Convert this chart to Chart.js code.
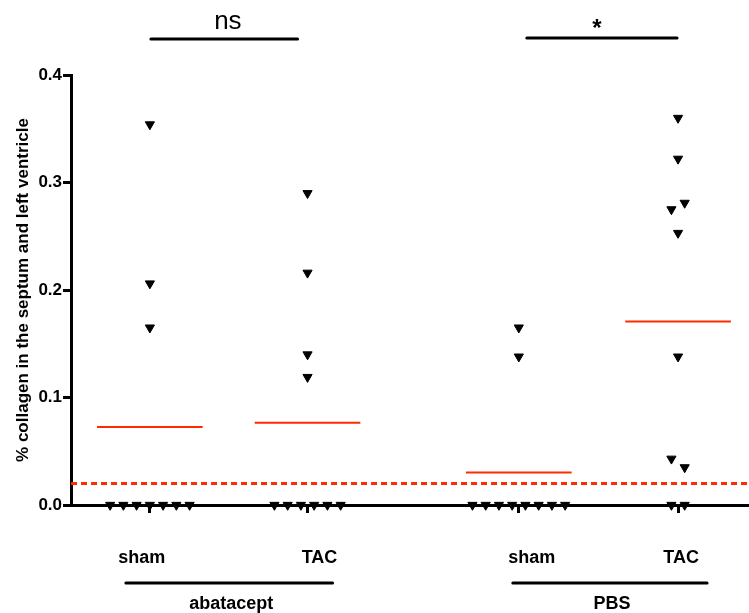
<!DOCTYPE html>
<html>
<head>
<meta charset="utf-8">
<title>Collagen</title>
<script src="https://cdn.jsdelivr.net/npm/chart.js@4.4.0/dist/chart.umd.min.js"></script>
<style>
    html, body { margin: 0; padding: 0; background: #fff; }
    #wrap { width: 749px; height: 613px; }
</style>
</head>
<body>
<div id="wrap"><canvas id="collagen-chart"></canvas></div>
<script>
(function () {
    "use strict";

    // data
    var groups = ["sham", "TAC", "sham", "TAC"];
    var treatments = ["abatacept", "PBS"];
    var groupPos = [1, 2, 3.34, 4.35];
    var shamAbatacept = [0.354, 0.206, 0.165, 0, 0, 0, 0, 0, 0, 0];
    var tacAbatacept = [0.290, 0.216, 0.140, 0.119, 0, 0, 0, 0, 0, 0];
    var shamPbs = [0.165, 0.138, 0, 0, 0, 0, 0, 0, 0, 0];
    var tacPbs = [0.360, 0.322, 0.275, 0.281, 0.253, 0.138, 0.043, 0.035, 0, 0];
    var detectionLimit = 0.02;
    var yTicks = [0, 0.1, 0.2, 0.3, 0.4];
    var significance = ["ns", "*"];

    var series = [shamAbatacept, tacAbatacept, shamPbs, tacPbs];
    var font = "'Liberation Sans', Arial, sans-serif";
    var red = "#ff2a00";

    // spread points that sit on the same level side by side
    function spread(values, pos) {
        var rows = [];
        values.forEach(function (v) {
            var row = rows.find(function (r) { return Math.abs(r.y - v) < 0.012; });
            if (!row) {
                row = { y: v, items: [] };
                rows.push(row);
            }
            row.items.push(v);
        });
        var pts = [];
        rows.forEach(function (r) {
            r.items.forEach(function (v, i) {
                pts.push({ x: pos + (i - (r.items.length - 1) / 2) * 0.084, y: v });
            });
        });
        return pts;
    }

    function mean(values) {
        return values.reduce(function (a, b) { return a + b; }, 0) / values.length;
    }

    var datasets = [];

    // dotted detection line
    datasets.push({
        type: "line",
        data: [{ x: 0.5, y: detectionLimit }, { x: 4.8, y: detectionLimit }],
        borderColor: red,
        borderWidth: 3,
        borderDash: [6, 4],
        pointRadius: 0,
        order: 3
    });

    series.forEach(function (values, i) {
        var m = mean(values);
        datasets.push({
            type: "line",
            data: [{ x: groupPos[i] - 0.335, y: m }, { x: groupPos[i] + 0.335, y: m }],
            borderColor: red,
            borderWidth: 2,
            pointRadius: 0,
            order: 2
        });
        datasets.push({
            type: "scatter",
            data: spread(values, groupPos[i]),
            pointStyle: "triangle",
            rotation: 180,
            pointRadius: 5.3,
            backgroundColor: "#000",
            borderColor: "#000",
            borderWidth: 1,
            clip: false,
            order: 1
        });
    });

    // brackets, stars and group labels
    var labelsPlugin = {
        id: "labels",
        afterDraw: function (chart) {
            var ctx = chart.ctx;
            var xs = chart.scales.x;
            var px = groupPos.map(function (p) { return xs.getPixelForValue(p); });

            ctx.save();
            ctx.fillStyle = "#000";
            ctx.strokeStyle = "#000";
            ctx.lineWidth = 3;
            ctx.lineCap = "round";
            ctx.textAlign = "center";
            ctx.textBaseline = "middle";

            function bar(x1, x2, y) {
                ctx.beginPath();
                ctx.moveTo(x1, y);
                ctx.lineTo(x2, y);
                ctx.stroke();
            }

            // significance
            bar(px[0] + 1, px[1] - 10, 39);
            bar(px[2] + 8, px[3] - 1, 38);
            ctx.font = "26px " + font;
            ctx.fillText(significance[0], px[0] + 78, 22);
            ctx.font = "bold 24px " + font;
            ctx.fillText(significance[1], px[2] + 78, 29);

            // category labels
            var shift = [-8, 12, 13, 3];
            ctx.font = "bold 18px " + font;
            groups.forEach(function (g, i) {
                ctx.fillText(g, px[i] + shift[i], 558);
            });

            // treatment brackets
            var spans = [[px[0] - 24, px[1] + 25], [px[2] - 6, px[3] + 29]];
            treatments.forEach(function (t, i) {
                bar(spans[i][0], spans[i][1], 583);
                ctx.fillText(t, (spans[i][0] + spans[i][1]) / 2 + 2, 604);
            });
            ctx.restore();
        }
    };

    var ctx1 = document.getElementById("collagen-chart").getContext("2d");
    var myChart1 = new Chart(ctx1, {
        data: { datasets: datasets },
        options: {
            responsive: true,
            maintainAspectRatio: false,
            animation: false,
            layout: { autoPadding: false, padding: { left: 13, top: 75, right: 0, bottom: 100 } },
            plugins: {
                legend: { display: false },
                tooltip: { enabled: false }
            },
            scales: {
                x: {
                    type: "linear",
                    min: 0.5,
                    max: 4.8,
                    afterBuildTicks: function (axis) {
                        axis.ticks = groupPos.map(function (v) { return { value: v }; });
                    },
                    ticks: { display: false },
                    grid: { drawOnChartArea: false, tickLength: 8, lineWidth: 3, color: "#000" },
                    border: { width: 3, color: "#000" }
                },
                y: {
                    min: 0,
                    max: 0.4,
                    afterBuildTicks: function (axis) {
                        axis.ticks = yTicks.map(function (v) { return { value: v }; });
                    },
                    ticks: {
                        color: "#000",
                        padding: 1,
                        font: { family: font, size: 17, weight: "bold" },
                        callback: function (v) { return v.toFixed(1); }
                    },
                    grid: { drawOnChartArea: false, tickLength: 8, lineWidth: 3, color: "#000" },
                    border: { width: 3, color: "#000" },
                    title: {
                        display: true,
                        text: "% collagen in the septum and left ventricle",
                        color: "#000",
                        padding: { top: 0, bottom: 4 },
                        font: { family: font, size: 17, weight: "bold" }
                    }
                }
            }
        },
        plugins: [labelsPlugin]
    });
})();
</script>
</body>
</html>
